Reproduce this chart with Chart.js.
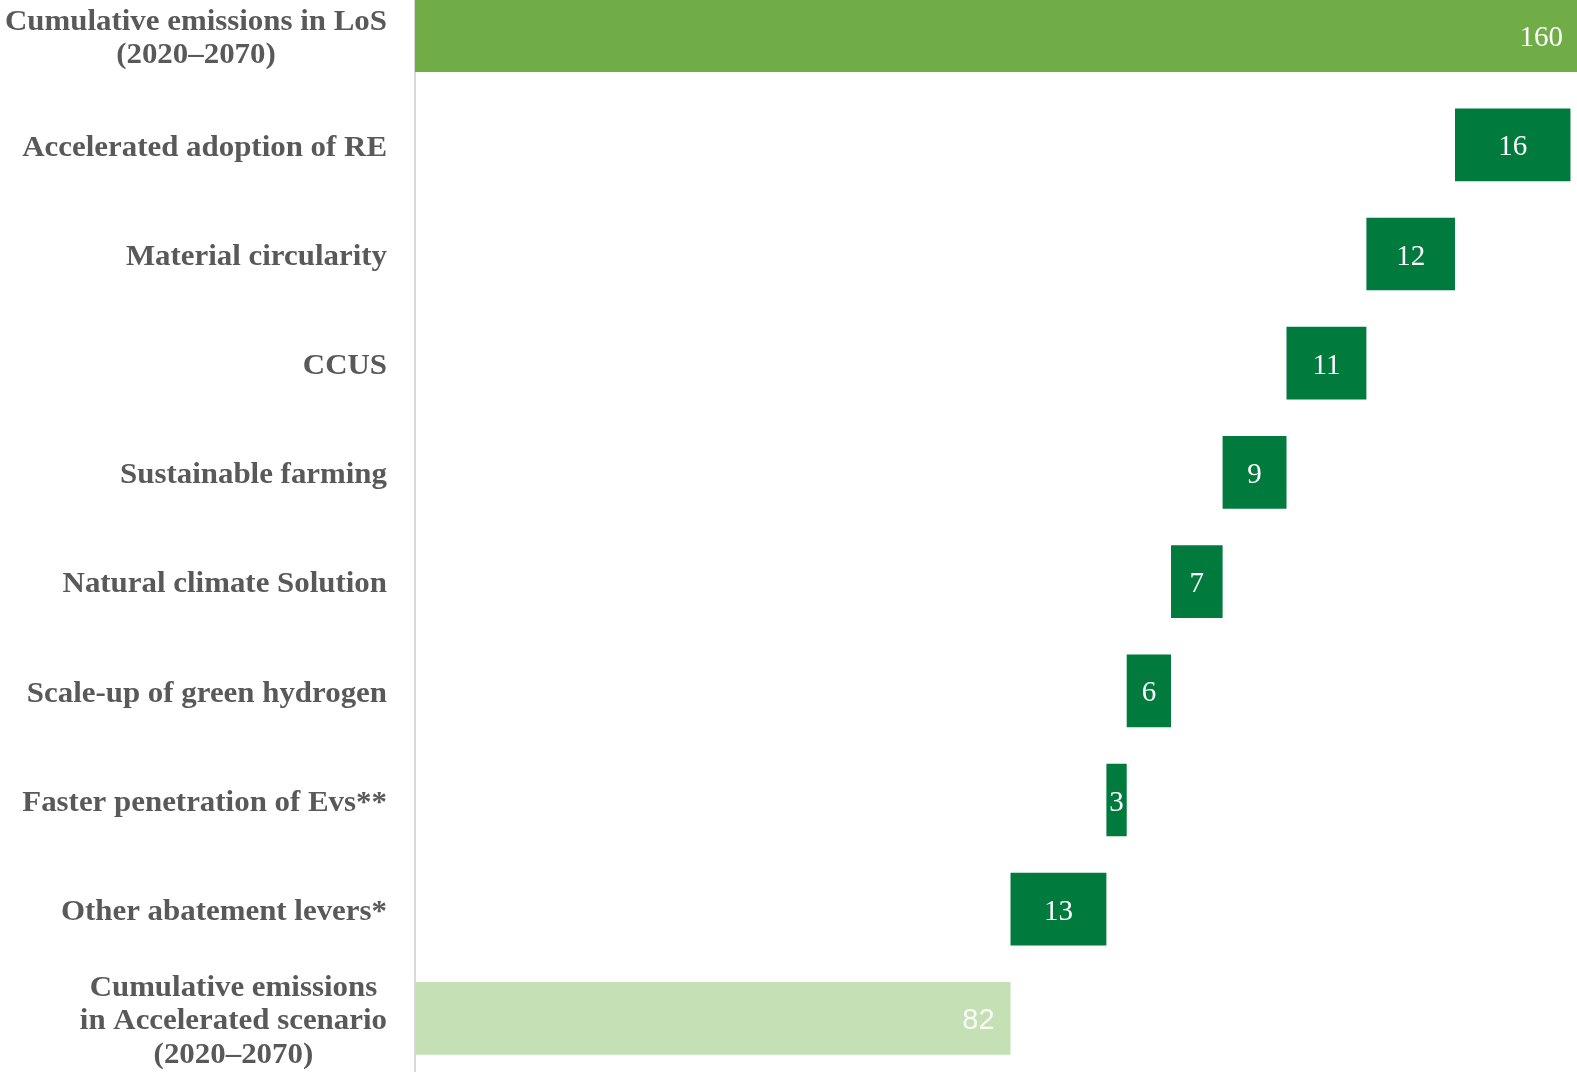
<!DOCTYPE html>
<html>
<head>
<meta charset="utf-8">
<script src="https://cdn.jsdelivr.net/npm/chart.js@4.4.1/dist/chart.umd.min.js"></script>
<style>
  html, body { margin: 0; padding: 0; background: #ffffff; overflow: hidden; width: 1577px; height: 1072px; }
  #wrap { position: absolute; left: 0; top: -19px; width: 1577px; height: 1092px; }
</style>
</head>
<body>
<div id="wrap"><canvas id="c"></canvas></div>
<script>
// Categories (each entry = lines of the label)
const categories = [
  ['Cumulative emissions in LoS', '(2020–2070)'],
  ['Accelerated adoption of RE'],
  ['Material circularity'],
  ['CCUS'],
  ['Sustainable farming'],
  ['Natural climate Solution'],
  ['Scale-up of green hydrogen'],
  ['Faster penetration of Evs**'],
  ['Other abatement levers*'],
  ['Cumulative emissions', 'in Accelerated scenario', '(2020–2070)']
];
// Bar start and end values (waterfall)
const barStart = [0, 143.2, 131.0, 120.0, 111.2, 104.1, 98.0, 95.2, 82.0, 0];
const barEnd   = [160, 159.1, 143.2, 131.0, 120.0, 111.2, 104.1, 98.0, 95.2, 82];
// Displayed value labels
const valueLabels = ['160', '16', '12', '11', '9', '7', '6', '3', '13', '82'];
const xMin = 0;
const xMax = 160;

const barColors = categories.map((c, i) =>
  i === 0 ? '#70AD47' : (i === categories.length - 1 ? '#C5E0B4' : '#007A3D'));

const labelPlugin = {
  id: 'labelPlugin',
  afterDraw(chart) {
    const ctx = chart.ctx;
    const yScale = chart.scales.y;
    // category labels
    ctx.save();
    ctx.font = 'bold 30px "Liberation Serif", serif';
    ctx.fillStyle = '#595959';
    ctx.textBaseline = 'middle';
    ctx.textAlign = 'center';
    const sx = 1.03;
    const rightEdge = 387;
    const lineH = 33.6;
    categories.forEach((lines, i) => {
      const yc = yScale.getPixelForTick(i);
      const w = Math.max(...lines.map(l => ctx.measureText(l).width)) * sx;
      const cx = rightEdge - w / 2;
      const y0 = yc - (lines.length - 1) * lineH / 2;
      lines.forEach((l, j) => {
        ctx.save();
        ctx.translate(cx, y0 + j * lineH + 3);
        ctx.scale(sx, 1);
        ctx.fillText(l, 0, 0);
        ctx.restore();
      });
    });
    ctx.restore();
    // value labels
    const meta = chart.getDatasetMeta(0);
    ctx.save();
    ctx.textBaseline = 'middle';
    meta.data.forEach((bar, i) => {
      const last = categories.length - 1;
      if (i === 0 || i === last) {
        ctx.font = i === 0 ? '29px "Liberation Serif", serif' : '29px "Liberation Sans", sans-serif';
        ctx.fillStyle = i === 0 ? '#ffffff' : '#f7fbf4';
        ctx.textAlign = 'right';
        ctx.fillText(valueLabels[i], Math.max(bar.x, bar.base) - (i === 0 ? 14 : 16), bar.y + 3);
      } else {
        ctx.font = '29px "Liberation Serif", serif';
        ctx.fillStyle = '#ffffff';
        ctx.textAlign = 'center';
        ctx.fillText(valueLabels[i], (bar.x + bar.base) / 2, bar.y + 3);
      }
    });
    ctx.restore();
  }
};

new Chart(document.getElementById('c'), {
  type: 'bar',
  data: {
    labels: categories.map(l => l.join(' ')),
    datasets: [{
      data: barStart.map((s, i) => [s, barEnd[i]]),
      backgroundColor: barColors,
      borderWidth: 0,
      categoryPercentage: 1.0,
      barPercentage: 0.666
    }]
  },
  options: {
    indexAxis: 'y',
    responsive: true,
    maintainAspectRatio: false,
    animation: false,
    layout: { padding: 0 },
    plugins: { legend: { display: false }, tooltip: { enabled: false } },
    scales: {
      x: { display: false, min: xMin, max: xMax },
      y: {
        display: true,
        grid: { display: false, drawTicks: false },
        border: { display: true, color: '#D9D9D9', width: 2 },
        ticks: { display: false },
        afterFit(scale) { scale.width = 415; }
      }
    }
  },
  plugins: [labelPlugin]
});
</script>
</body>
</html>
